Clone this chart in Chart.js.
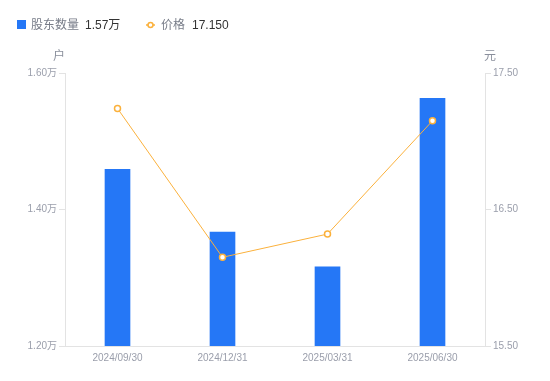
<!DOCTYPE html>
<html><head><meta charset="utf-8">
<script src="https://cdn.jsdelivr.net/npm/chart.js@4/dist/chart.umd.min.js"></script>
<style>
html,body{margin:0;padding:0;background:#fff;}
#wrap{position:relative;width:550px;height:381px;}
canvas{position:absolute;left:0;top:0;}
</style></head>
<body><div id="wrap"><canvas id="c" width="550" height="381"></canvas></div>
<script>
const categories = ["2024/09/30","2024/12/31","2025/03/31","2025/06/30"];
const holders = [1.459, 1.367, 1.316, 1.563];
const prices = [17.24, 16.15, 16.32, 17.15];
const leftTicks = [1.20, 1.40, 1.60];
const rightTicks = [15.50, 16.50, 17.50];
const legendHolders = "1.57万";
const legendPrice = "17.150";

const FONT = '"Liberation Sans", "Noto Sans CJK SC", sans-serif';
const BLUE = '#2577F6';
const ORANGE = '#FBB13C';

const extras = {
  id: 'extras',
  afterDraw(chart) {
    const ctx = chart.ctx;
    const yl = chart.scales.y, yr = chart.scales.y1;
    ctx.save();
    ctx.font = '12px ' + FONT;
    ctx.fillStyle = '#8a8f9c';
    ctx.textBaseline = 'middle';
    ctx.textAlign = 'center';
    ctx.fillText('户', yl.right - 6, 57);
    ctx.fillText('元', yr.left + 5, 57);
    // legend
    ctx.textAlign = 'left';
    ctx.font = '12px ' + FONT;
    ctx.fillStyle = BLUE;
    ctx.fillRect(17, 20, 9, 9);
    ctx.fillStyle = '#777c88';
    ctx.fillText('股东数量', 31, 25.5);
    ctx.fillStyle = '#333';
    ctx.fillText(legendHolders, 85, 25.5);
    ctx.strokeStyle = ORANGE;
    ctx.lineWidth = 1.5;
    ctx.beginPath(); ctx.moveTo(146, 25); ctx.lineTo(155, 25); ctx.stroke();
    ctx.beginPath(); ctx.arc(150.5, 25, 2.5, 0, Math.PI*2);
    ctx.fillStyle = '#fff'; ctx.fill(); ctx.stroke();
    ctx.fillStyle = '#777c88';
    ctx.fillText('价格', 161, 25.5);
    ctx.fillStyle = '#333';
    ctx.fillText(legendPrice, 192, 25.5);
    ctx.restore();
  }
};

new Chart(document.getElementById('c'), {
  data: {
    labels: categories,
    datasets: [
      { type: 'line', data: prices, yAxisID: 'y1', borderColor: ORANGE, borderWidth: 1,
        pointRadius: 3, pointBorderWidth: 1.5, pointBackgroundColor: '#fff', pointBorderColor: ORANGE,
        tension: 0, order: 0 },
      { type: 'bar', data: holders, yAxisID: 'y', backgroundColor: BLUE, barThickness: 25, order: 1 }
    ]
  },
  options: {
    responsive: false, animation: false,
    layout: { padding: { top: 73, bottom: 0, left: 0, right: 0 } },
    plugins: { legend: { display: false }, tooltip: { enabled: false } },
    scales: {
      x: {
        grid: { drawOnChartArea: false, drawTicks: false, color: '#e3e3e3' },
        border: { color: '#e3e3e3' },
        ticks: { color: '#9a9eab', font: { size: 10, family: FONT }, padding: 6, maxRotation: 0 },
        afterFit(s) { s.height = 35; }
      },
      y: {
        position: 'left', min: 1.20, max: 1.60,
        afterBuildTicks(s) { s.ticks = leftTicks.map(v => ({ value: v })); },
        grid: { drawOnChartArea: false, tickLength: 6, color: '#e3e3e3' },
        border: { color: '#e3e3e3' },
        ticks: { color: '#9a9eab', font: { size: 10, family: FONT }, padding: 2,
          callback: v => v.toFixed(2) + '万' },
        afterFit(s) { s.width = 65; }
      },
      y1: {
        position: 'right', min: 15.50, max: 17.50,
        afterBuildTicks(s) { s.ticks = rightTicks.map(v => ({ value: v })); },
        grid: { drawOnChartArea: false, tickLength: 6, color: '#e3e3e3' },
        border: { color: '#e3e3e3' },
        ticks: { color: '#9a9eab', font: { size: 10, family: FONT }, padding: 2,
          callback: v => v.toFixed(2) },
        afterFit(s) { s.width = 65; }
      }
    }
  },
  plugins: [extras]
});
</script></body></html>
